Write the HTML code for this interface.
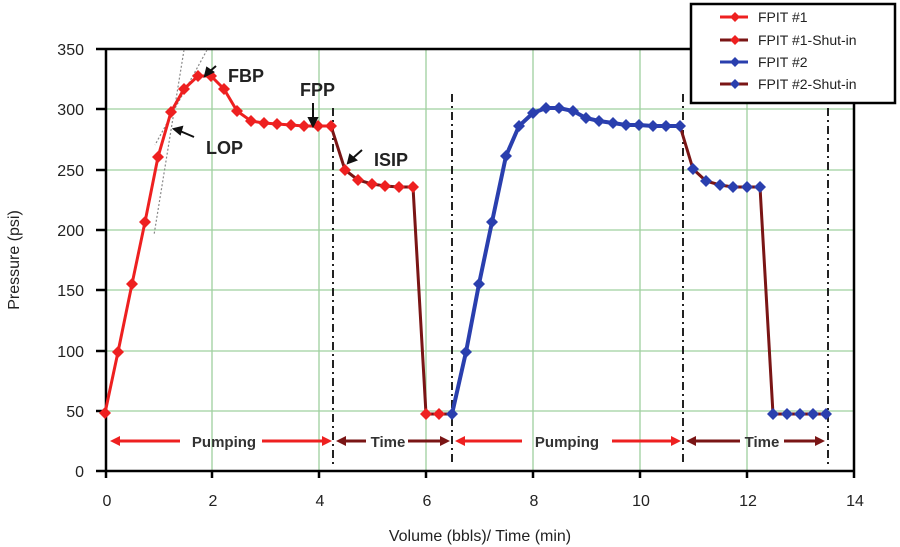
<!DOCTYPE html>
<html><head><meta charset="utf-8"><style>body{margin:0;background:#fff}svg{display:block}text{font-family:"Liberation Sans",sans-serif}</style></head><body>
<svg width="900" height="547" viewBox="0 0 900 547" xmlns="http://www.w3.org/2000/svg">
<defs>
<symbol id="d" viewBox="-5 -5 10 10"><path d="M0,-5L5,0L0,5L-5,0z"/></symbol>
</defs>
<g stroke="#9fd09f" stroke-width="1.3">
<line x1="212" y1="49" x2="212" y2="471"/><line x1="319" y1="49" x2="319" y2="471"/><line x1="426" y1="49" x2="426" y2="471"/><line x1="533" y1="49" x2="533" y2="471"/><line x1="640" y1="49" x2="640" y2="471"/><line x1="747" y1="49" x2="747" y2="471"/>
<line x1="106" y1="109" x2="853" y2="109"/><line x1="106" y1="170" x2="853" y2="170"/><line x1="106" y1="230" x2="853" y2="230"/><line x1="106" y1="290" x2="853" y2="290"/><line x1="106" y1="351" x2="853" y2="351"/><line x1="106" y1="411" x2="853" y2="411"/>
</g>
<g stroke="#000" stroke-width="2.5" fill="none">
<polyline points="96,49 690,49"/><polyline points="854,103 854,471"/>
<line x1="106" y1="49" x2="106" y2="478"/><line x1="96" y1="471" x2="854" y2="471"/>
<line x1="96" y1="109" x2="106" y2="109"/><line x1="96" y1="170" x2="106" y2="170"/><line x1="96" y1="230" x2="106" y2="230"/><line x1="96" y1="290" x2="106" y2="290"/><line x1="96" y1="351" x2="106" y2="351"/><line x1="96" y1="411" x2="106" y2="411"/>
<line x1="212" y1="471" x2="212" y2="478"/><line x1="319" y1="471" x2="319" y2="478"/><line x1="426" y1="471" x2="426" y2="478"/><line x1="533" y1="471" x2="533" y2="478"/><line x1="640" y1="471" x2="640" y2="478"/><line x1="747" y1="471" x2="747" y2="478"/><line x1="854" y1="471" x2="854" y2="478"/>
</g>
<g stroke="#222" stroke-width="2" stroke-dasharray="8,4,2,4">
<line x1="333" y1="108" x2="333" y2="465"/><line x1="452" y1="94" x2="452" y2="465"/><line x1="683" y1="94" x2="683" y2="465"/><line x1="828" y1="108" x2="828" y2="465"/>
</g>
<g stroke="#888" stroke-width="1.2" stroke-dasharray="2,2"><line x1="184" y1="50" x2="154" y2="235"/><line x1="207" y1="50" x2="155" y2="145"/></g>
<g font-size="16" fill="#222" text-anchor="end"><text x="84" y="55">350</text><text x="84" y="115">300</text><text x="84" y="176">250</text><text x="84" y="236">200</text><text x="84" y="296">150</text><text x="84" y="357">100</text><text x="84" y="417">50</text><text x="84" y="477">0</text></g>
<g font-size="16" fill="#222" text-anchor="middle"><text x="107" y="506">0</text><text x="213" y="506">2</text><text x="320" y="506">4</text><text x="427" y="506">6</text><text x="534" y="506">8</text><text x="641" y="506">10</text><text x="748" y="506">12</text><text x="855" y="506">14</text>
<text x="480" y="541" font-size="16">Volume (bbls)/ Time (min)</text></g>
<text transform="translate(19,260) rotate(-90)" font-size="16" fill="#222" text-anchor="middle">Pressure (psi)</text>
<polyline fill="none" stroke="#7a1515" stroke-width="3" points="331,126 345,170 358,180 372,184 385,186 399,187 413,187 426,414 439,414 452,414"/>
<polyline fill="none" stroke="#7a1515" stroke-width="3" points="680,126 693,169 706,181 720,185 733,187 747,187 760,187 773,414 787,414 800,414 813,414 826,414"/>
<polyline fill="none" stroke="#ee2020" stroke-width="3" points="105,413 118,352 132,284 145,222 158,157 171,112 184,89 198,76 211,76 224,89 237,111 251,121 264,123 277,124 291,125 304,126 318,126 331,126"/>
<polyline fill="none" stroke="#2a3fae" stroke-width="4" points="452,414 466,352 479,284 492,222 506,156 519,126 533,113 546,108 559,108 573,111 586,118 599,121 613,123 626,125 639,125 653,126 666,126 680,126"/>
<g fill="#ee2020"><use href="#d" x="99" y="407" width="12" height="12"/><use href="#d" x="112" y="346" width="12" height="12"/><use href="#d" x="126" y="278" width="12" height="12"/><use href="#d" x="139" y="216" width="12" height="12"/><use href="#d" x="152" y="151" width="12" height="12"/><use href="#d" x="165" y="106" width="12" height="12"/><use href="#d" x="178" y="83" width="12" height="12"/><use href="#d" x="192" y="70" width="12" height="12"/><use href="#d" x="205" y="70" width="12" height="12"/><use href="#d" x="218" y="83" width="12" height="12"/><use href="#d" x="231" y="105" width="12" height="12"/><use href="#d" x="245" y="115" width="12" height="12"/><use href="#d" x="258" y="117" width="12" height="12"/><use href="#d" x="271" y="118" width="12" height="12"/><use href="#d" x="285" y="119" width="12" height="12"/><use href="#d" x="298" y="120" width="12" height="12"/><use href="#d" x="312" y="120" width="12" height="12"/><use href="#d" x="325" y="120" width="12" height="12"/>
<use href="#d" x="339" y="164" width="12" height="12"/><use href="#d" x="352" y="174" width="12" height="12"/><use href="#d" x="366" y="178" width="12" height="12"/><use href="#d" x="379" y="180" width="12" height="12"/><use href="#d" x="393" y="181" width="12" height="12"/><use href="#d" x="407" y="181" width="12" height="12"/><use href="#d" x="420" y="408" width="12" height="12"/><use href="#d" x="433" y="408" width="12" height="12"/></g>
<g fill="#2a3fae"><use href="#d" x="446" y="408" width="12" height="12"/><use href="#d" x="460" y="346" width="12" height="12"/><use href="#d" x="473" y="278" width="12" height="12"/><use href="#d" x="486" y="216" width="12" height="12"/><use href="#d" x="500" y="150" width="12" height="12"/><use href="#d" x="513" y="120" width="12" height="12"/><use href="#d" x="527" y="107" width="12" height="12"/><use href="#d" x="540" y="102" width="12" height="12"/><use href="#d" x="553" y="102" width="12" height="12"/><use href="#d" x="567" y="105" width="12" height="12"/><use href="#d" x="580" y="112" width="12" height="12"/><use href="#d" x="593" y="115" width="12" height="12"/><use href="#d" x="607" y="117" width="12" height="12"/><use href="#d" x="620" y="119" width="12" height="12"/><use href="#d" x="633" y="119" width="12" height="12"/><use href="#d" x="647" y="120" width="12" height="12"/><use href="#d" x="660" y="120" width="12" height="12"/><use href="#d" x="674" y="120" width="12" height="12"/>
<use href="#d" x="687" y="163" width="12" height="12"/><use href="#d" x="700" y="175" width="12" height="12"/><use href="#d" x="714" y="179" width="12" height="12"/><use href="#d" x="727" y="181" width="12" height="12"/><use href="#d" x="741" y="181" width="12" height="12"/><use href="#d" x="754" y="181" width="12" height="12"/><use href="#d" x="767" y="408" width="12" height="12"/><use href="#d" x="781" y="408" width="12" height="12"/><use href="#d" x="794" y="408" width="12" height="12"/><use href="#d" x="807" y="408" width="12" height="12"/><use href="#d" x="820" y="408" width="12" height="12"/></g>
<g font-size="18" font-weight="bold" fill="#222"><text x="228" y="82">FBP</text><text x="300" y="96">FPP</text><text x="206" y="154">LOP</text><text x="374" y="166">ISIP</text></g>
<g stroke="#111" stroke-width="2" fill="#111">
<line x1="216" y1="66" x2="209" y2="72"/><path d="M205,76L207,68L213,72z"/>
<line x1="313" y1="103" x2="313" y2="120"/><path d="M309,118L317,118L313,126z"/>
<line x1="194" y1="137" x2="180" y2="131"/><path d="M174,129L182,127L180,134z"/>
<line x1="362" y1="150" x2="353" y2="158"/><path d="M348,163L350,155L356,160z"/>
</g>
<g font-size="15" font-weight="bold" fill="#333" text-anchor="middle"><text x="224" y="447">Pumping</text><text x="388" y="447">Time</text><text x="567" y="447">Pumping</text><text x="762" y="447">Time</text></g>
<g stroke-width="3">
<line x1="115" y1="441" x2="180" y2="441" stroke="#ee2020"/><path d="M110,441L120,436L120,446z" fill="#ee2020"/>
<line x1="262" y1="441" x2="325" y2="441" stroke="#ee2020"/><path d="M332,441L322,436L322,446z" fill="#ee2020"/>
<line x1="342" y1="441" x2="366" y2="441" stroke="#7a1515"/><path d="M336,441L346,436L346,446z" fill="#7a1515"/>
<line x1="408" y1="441" x2="443" y2="441" stroke="#7a1515"/><path d="M450,441L440,436L440,446z" fill="#7a1515"/>
<line x1="462" y1="441" x2="522" y2="441" stroke="#ee2020"/><path d="M455,441L465,436L465,446z" fill="#ee2020"/>
<line x1="612" y1="441" x2="674" y2="441" stroke="#ee2020"/><path d="M681,441L671,436L671,446z" fill="#ee2020"/>
<line x1="692" y1="441" x2="740" y2="441" stroke="#7a1515"/><path d="M686,441L696,436L696,446z" fill="#7a1515"/>
<line x1="784" y1="441" x2="818" y2="441" stroke="#7a1515"/><path d="M825,441L815,436L815,446z" fill="#7a1515"/>
</g>
<rect x="691" y="4" width="204" height="99" fill="#fff" stroke="#000" stroke-width="2.5"/>
<g stroke-width="3"><line x1="720" y1="17" x2="748" y2="17" stroke="#ee2020"/><line x1="720" y1="40" x2="748" y2="40" stroke="#7a1515"/><line x1="720" y1="62" x2="748" y2="62" stroke="#2a3fae"/><line x1="720" y1="84" x2="748" y2="84" stroke="#7a1515"/></g>
<use href="#d" x="730" y="12" width="10" height="10" fill="#ee2020"/><use href="#d" x="730" y="35" width="10" height="10" fill="#ee2020"/><use href="#d" x="730" y="57" width="10" height="10" fill="#2a3fae"/><use href="#d" x="730" y="79" width="10" height="10" fill="#2a3fae"/>
<g font-size="14" fill="#222"><text x="758" y="22">FPIT #1</text><text x="758" y="45">FPIT #1-Shut-in</text><text x="758" y="67">FPIT #2</text><text x="758" y="89">FPIT #2-Shut-in</text></g>
</svg>
</body></html>
